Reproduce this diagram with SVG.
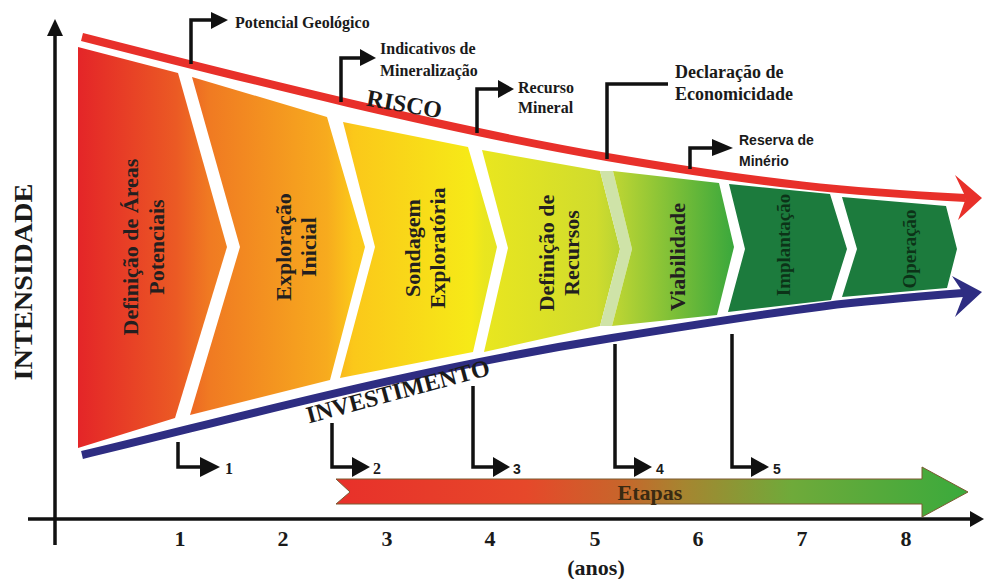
<svg xmlns="http://www.w3.org/2000/svg" width="984" height="579" viewBox="0 0 984 579">
<defs>
<linearGradient id="funnelGrad" gradientUnits="userSpaceOnUse" x1="78" y1="0" x2="734" y2="0">
<stop offset="0" stop-color="#e42528"/>
<stop offset="0.15" stop-color="#eb5a24"/>
<stop offset="0.2" stop-color="#f07a22"/>
<stop offset="0.38" stop-color="#f7ab1e"/>
<stop offset="0.42" stop-color="#fbc81a"/>
<stop offset="0.6" stop-color="#f6ea17"/>
<stop offset="0.62" stop-color="#e9e61f"/>
<stop offset="0.79" stop-color="#d0dc2d"/>
<stop offset="0.82" stop-color="#bcd533"/>
<stop offset="1" stop-color="#3aa83c"/>
</linearGradient>
<linearGradient id="etapasGrad" gradientUnits="userSpaceOnUse" x1="336" y1="0" x2="968" y2="0">
<stop offset="0" stop-color="#e8302a"/>
<stop offset="0.3" stop-color="#e6482a"/>
<stop offset="0.45" stop-color="#c8652b"/>
<stop offset="0.55" stop-color="#a68530"/>
<stop offset="0.72" stop-color="#6faa3a"/>
<stop offset="1" stop-color="#3aaa3c"/>
</linearGradient>
<style>
.seg{stroke:none}
.lbl{font-family:"Liberation Serif","Times New Roman",serif;font-weight:bold;font-size:22px;fill:#231f20;text-anchor:middle}
.lbld{font-family:"Liberation Serif","Times New Roman",serif;font-weight:bold;font-size:19px;fill:#0c3318;text-anchor:middle}
.ann{font-family:"Liberation Serif","Times New Roman",serif;font-weight:bold;font-size:16px;fill:#1a1a1a}
.annl{font-family:"Liberation Serif","Times New Roman",serif;font-weight:bold;font-size:18px;fill:#1a1a1a}
.anns{font-family:"Liberation Sans",Arial,sans-serif;font-weight:bold;font-size:14px;fill:#1a1a1a}
.ax{font-family:"Liberation Serif","Times New Roman",serif;font-weight:bold;font-size:22px;fill:#1a1a1a;text-anchor:middle}
.big{font-family:"Liberation Serif","Times New Roman",serif;font-weight:bold;font-size:24px;fill:#1a1a1a;text-anchor:middle}
.ylab{font-family:"Liberation Serif","Times New Roman",serif;font-weight:bold;font-size:26px;fill:#1a1a1a;text-anchor:middle}
.etp{font-family:"Liberation Serif","Times New Roman",serif;font-weight:bold;font-size:22px;fill:#3a2a12;text-anchor:middle}
.call{fill:none;stroke:#111;stroke-width:3.5}
.head{fill:#111}
</style>
</defs>
<rect width="984" height="579" fill="#ffffff"/>

<g id="axes">
<line x1="55" y1="545" x2="55" y2="34" stroke="#111" stroke-width="3.5"/>
<polygon points="47,36 55,19 63,36" fill="#111"/>
<line x1="28" y1="519" x2="972" y2="519" stroke="#111" stroke-width="3.5"/>
<polygon points="970,511 984,519 970,527" fill="#111"/>
<text class="ylab" transform="translate(32,282) rotate(-90)" textLength="197" lengthAdjust="spacingAndGlyphs">INTENSIDADE</text>
<text class="ax" x="180" y="546">1</text>
<text class="ax" x="283" y="546">2</text>
<text class="ax" x="387" y="546">3</text>
<text class="ax" x="490" y="546">4</text>
<text class="ax" x="595" y="546">5</text>
<text class="ax" x="698" y="546">6</text>
<text class="ax" x="802" y="546">7</text>
<text class="ax" x="906" y="546">8</text>
<text class="ax" x="596" y="575">(anos)</text>
</g>

<g id="seg1">
<polygon class="seg" fill="url(#funnelGrad)" points="78,47 178,73 227,247 175,418 78,448"/>
<text class="lbl" transform="translate(138,247) rotate(-90)">Definição de Áreas</text>
<text class="lbl" transform="translate(164,247) rotate(-90)">Potenciais</text>
</g>
<g id="seg2">
<polygon class="seg" fill="url(#funnelGrad)" points="192,77 327,117 365,247 330,380 190,415 240,247"/>
<text class="lbl" transform="translate(291,247) rotate(-90)">Exploração</text>
<text class="lbl" transform="translate(316,247) rotate(-90)">Inicial</text>
</g>
<g id="seg3">
<polygon class="seg" fill="url(#funnelGrad)" points="343,122 468,147 497,247 473,352 340,378 375,247"/>
<text class="lbl" transform="translate(420,248) rotate(-90)">Sondagem</text>
<text class="lbl" transform="translate(445,248) rotate(-90)">Exploratória</text>
</g>
<g id="seg4">
<polygon class="seg" fill="url(#funnelGrad)" points="482,150 600,171 620,249 600,326 484,352 508,248"/>
<text class="lbl" transform="translate(554,253) rotate(-90)">Definição de</text>
<text class="lbl" transform="translate(579,253) rotate(-90)">Recursos</text>
</g>
<g id="sep45">
<polygon fill="#cfe3a8" points="600,171 613,171 632,249 612,326 600,326 620,249"/>
</g>
<g id="seg5">
<polygon class="seg" fill="url(#funnelGrad)" points="613,171 719,183 734,247 717,315 612,326 632,249"/>
<text class="lbl" transform="translate(685,257) rotate(-90)">Viabilidade</text>
</g>
<g id="seg6">
<polygon class="seg" fill="#1c7b3d" points="729,184 830,194 847,249 831,300 728,312 745,249"/>
<text class="lbld" transform="translate(790,245) rotate(-90)">Implantação</text>
</g>
<g id="seg7">
<polygon class="seg" fill="#1c7b3d" points="842,197 946,206 957,249 947,288 842,297 857,249"/>
<text class="lbld" transform="translate(916,249) rotate(-90)">Operação</text>
</g>

<g id="risco">
<path d="M82,37 C250,80 450,130 607,157 S850,192 966,198" fill="none" stroke="#e8302a" stroke-width="8"/>
<polygon points="955,175 982,198 958,220 966,198" fill="#e8302a"/>
<text class="big" transform="translate(403,112) rotate(10)">RISCO</text>
</g>
<g id="investimento">
<path d="M82,455 C230,420 400,372 612,338 S850,302 964,293" fill="none" stroke="#2e2d82" stroke-width="8"/>
<polygon points="952,276 982,292 955,317 964,294" fill="#2e2d82"/>
<text class="big" transform="translate(400,399) rotate(-15)">INVESTIMENTO</text>
</g>

<g id="connectors">
<path class="call" d="M191,64 V20 H212"/>
<polygon class="head" points="211,12 228,20 211,29"/>
<path class="call" d="M341,102 V58 H361"/>
<polygon class="head" points="360,49 376,58 360,66"/>
<path class="call" d="M477,133 V89 H499"/>
<polygon class="head" points="498,80 514,89 498,98"/>
<path class="call" d="M607,159 V84 H668"/>
<path class="call" d="M690,169 V148 H713"/>
<polygon class="head" points="712,139 733,148 712,156"/>
<path class="call" d="M178,442 V467 H202"/>
<polygon class="head" points="200,457 220,467 200,477"/>
<path class="call" d="M332,423 V467 H353"/>
<polygon class="head" points="352,457 370,467 352,477"/>
<path class="call" d="M473,386 V467 H494"/>
<polygon class="head" points="493,457 510,467 493,477"/>
<path class="call" d="M615,344 V467 H635"/>
<polygon class="head" points="634,457 652,467 634,477"/>
<path class="call" d="M732,334 V467 H752"/>
<polygon class="head" points="751,457 769,467 751,477"/>
</g>

<g id="annotations">
<text class="ann" x="235" y="28">Potencial Geológico</text>
<text class="ann" x="380" y="54">Indicativos de</text>
<text class="ann" x="380" y="76">Mineralização</text>
<text class="ann" x="518" y="93">Recurso</text>
<text class="ann" x="518" y="113">Mineral</text>
<text class="annl" x="675" y="78">Declaração de</text>
<text class="annl" x="675" y="100">Economicidade</text>
<text class="anns" x="739" y="145">Reserva de</text>
<text class="anns" x="739" y="166">Minério</text>
<text class="ann" x="225" y="474">1</text>
<text class="ann" x="373" y="474">2</text>
<text class="anns" x="513" y="474">3</text>
<text class="anns" x="656" y="474">4</text>
<text class="anns" x="773" y="474">5</text>
</g>

<g id="etapas">
<polygon points="336,479 922,479 922,467 968,492 922,517 922,504 336,504 350,492" fill="url(#etapasGrad)" stroke="#7a5a30" stroke-width="1"/>
<text class="etp" x="650" y="500">Etapas</text>
</g>
</svg>
